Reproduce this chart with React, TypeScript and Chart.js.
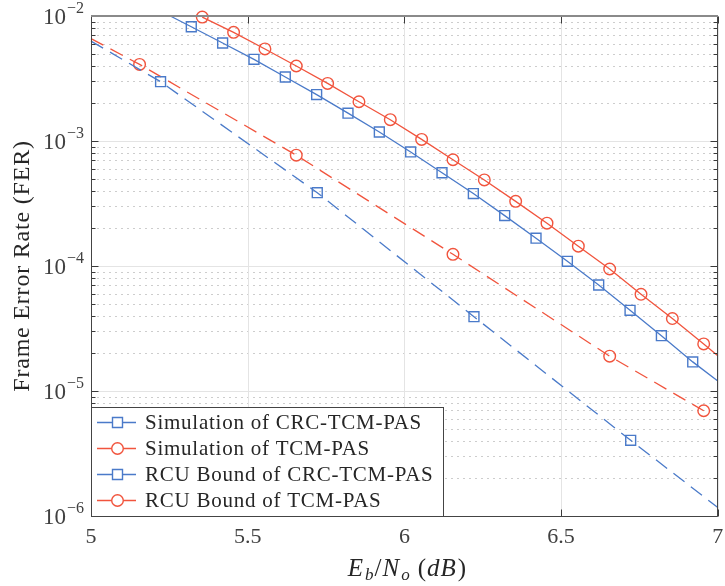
import { useEffect, useRef } from 'react';
import { Chart, registerables } from 'chart.js';

Chart.register(...registerables);

// ---- data ----
const simCrcX = [5.0, 5.222, 5.722, 6.222, 6.722, 7.0];
const simCrcY = [6.3e-3, 2.98e-3, 3.86e-4, 3.93e-5, 4.03e-6, 1.17e-6];

const simTcmX = [5.0, 5.155, 5.655, 6.155, 6.655, 6.955];
const simTcmY = [6.6e-3, 4.1e-3, 7.7e-4, 1.24e-4, 1.9e-5, 6.95e-6];

const rcuCrcX = [5.253, 5.32, 5.42, 5.52, 5.62, 5.72, 5.82, 5.92, 6.02, 6.12, 6.22, 6.32, 6.42, 6.52, 6.62, 6.72, 6.82, 6.92, 7.0];
const rcuCrcY = [1e-2, 8.2e-3, 6.08e-3, 4.5e-3, 3.25e-3, 2.35e-3, 1.67e-3, 1.18e-3, 8.17e-4, 5.57e-4, 3.8e-4, 2.53e-4, 1.67e-4, 1.09e-4, 7.05e-5, 4.42e-5, 2.77e-5, 1.71e-5, 1.2e-5];

const rcuTcmX = [5.355, 5.455, 5.555, 5.655, 5.755, 5.855, 5.955, 6.055, 6.155, 6.255, 6.355, 6.455, 6.555, 6.655, 6.755, 6.855, 6.955, 7.0];
const rcuTcmY = [9.8e-3, 7.4e-3, 5.45e-3, 3.98e-3, 2.89e-3, 2.06e-3, 1.48e-3, 1.03e-3, 7.08e-4, 4.88e-4, 3.29e-4, 2.2e-4, 1.44e-4, 9.46e-5, 5.94e-5, 3.8e-5, 2.38e-5, 1.91e-5];

const seriesLabels = [
  'Simulation of CRC-TCM-PAS',
  'Simulation of TCM-PAS',
  'RCU Bound of CRC-TCM-PAS',
  'RCU Bound of TCM-PAS',
];

const xTicks = [5, 5.5, 6, 6.5, 7];
const xTickLabels = ['5', '5.5', '6', '6.5', '7'];
const yDecadeExps = [-6, -5, -4, -3, -2];
const yTickLabels = ['10', '10', '10', '10', '10'];
const yTickExpLabels = ['\u22126', '\u22125', '\u22124', '\u22123', '\u22122'];

const BLUE = '#4a7ac9';
const RED = '#f1543d';
const FONT = '"Liberation Serif", "DejaVu Serif", serif';

const seriesDefs = [
  { x: simCrcX, y: simCrcY, color: BLUE, dash: [14, 8], style: 'rect', hideFirst: true, hideLast: true },
  { x: simTcmX, y: simTcmY, color: RED, dash: [14, 8], style: 'circle', hideFirst: true, hideLast: false },
  { x: rcuCrcX, y: rcuCrcY, color: BLUE, dash: [], style: 'rect', hideFirst: true, hideLast: true },
  { x: rcuTcmX, y: rcuTcmY, color: RED, dash: [], style: 'circle', hideFirst: false, hideLast: true },
];

const markerRadius = (style: string) => (style === 'rect' ? 7 : 5.8);

const setSpacing = (ctx: any, v: string) => {
  if ('letterSpacing' in ctx) ctx.letterSpacing = v;
};

const decorPlugin = {
  id: 'decor',
  beforeDatasetsDraw(chart: any) {
    const { ctx, chartArea: a, scales } = chart;
    const xs = scales.x;
    const ys = scales.y;
    ctx.save();
    // minor y grid (dotted)
    ctx.strokeStyle = '#cdcdcd';
    ctx.lineWidth = 1;
    ctx.setLineDash([2, 4]);
    for (let e = -6; e < -2; e++) {
      for (let m = 2; m <= 9; m++) {
        const py = Math.round(ys.getPixelForValue(m * Math.pow(10, e))) + 0.5;
        ctx.beginPath();
        ctx.moveTo(a.left, py);
        ctx.lineTo(a.right, py);
        ctx.stroke();
      }
    }
    // major grid (solid)
    ctx.setLineDash([]);
    ctx.strokeStyle = '#e4e4e4';
    for (const e of yDecadeExps) {
      const py = Math.round(ys.getPixelForValue(Math.pow(10, e))) + 0.5;
      ctx.beginPath();
      ctx.moveTo(a.left, py);
      ctx.lineTo(a.right, py);
      ctx.stroke();
    }
    for (const t of xTicks) {
      const px = Math.round(xs.getPixelForValue(t)) + 0.5;
      ctx.beginPath();
      ctx.moveTo(px, a.top);
      ctx.lineTo(px, a.bottom);
      ctx.stroke();
    }
    ctx.restore();
  },
  afterDatasetsDraw(chart: any) {
    const { ctx, chartArea: a, scales } = chart;
    const xs = scales.x;
    const ys = scales.y;
    ctx.save();
    const L = Math.round(a.left) + 0.5;
    const R = Math.round(a.right) - 0.5;
    const T = Math.round(a.top) + 0.5;
    const B = Math.round(a.bottom) + 0.5;

    // tick marks
    ctx.strokeStyle = '#3a3a3a';
    ctx.lineWidth = 1;
    for (let e = -6; e <= -2; e++) {
      for (let m = 1; m <= 9; m++) {
        if (e === -2 && m > 1) break;
        const py = Math.round(ys.getPixelForValue(m * Math.pow(10, e))) + 0.5;
        const len = m === 1 ? 7 : 4;
        ctx.beginPath();
        ctx.moveTo(L, py);
        ctx.lineTo(L + len, py);
        ctx.moveTo(R, py);
        ctx.lineTo(R - len, py);
        ctx.stroke();
      }
    }
    for (const t of xTicks) {
      const px = Math.round(xs.getPixelForValue(t)) + 0.5;
      ctx.beginPath();
      ctx.moveTo(px, B);
      ctx.lineTo(px, B - 7);
      ctx.moveTo(px, T);
      ctx.lineTo(px, T + 7);
      ctx.stroke();
    }

    // box
    ctx.strokeStyle = '#444444';
    ctx.beginPath();
    ctx.moveTo(L, T);
    ctx.lineTo(L, B);
    ctx.lineTo(R, B);
    ctx.lineTo(R, T);
    ctx.stroke();
    ctx.strokeStyle = '#8a8a8a';
    ctx.lineWidth = 2;
    ctx.beginPath();
    ctx.moveTo(L - 0.5, T - 0.5);
    ctx.lineTo(R + 0.5, T - 0.5);
    ctx.stroke();

    // legend
    const lgL = L;
    const lgR = 443.5;
    const lgT = 407.5;
    const lgB = B;
    ctx.fillStyle = '#ffffff';
    ctx.fillRect(lgL, lgT, lgR - lgL, lgB - lgT);
    ctx.strokeStyle = '#444444';
    ctx.lineWidth = 1;
    ctx.strokeRect(lgL, lgT, lgR - lgL, lgB - lgT);
    const rowY = [422, 448, 474, 500];
    ctx.font = `21px ${FONT}`;
    ctx.textBaseline = 'middle';
    ctx.textAlign = 'left';
    seriesDefs.forEach((s, i) => {
      const y = rowY[i] + 0.5;
      ctx.strokeStyle = s.color;
      ctx.lineWidth = 1.3;
      ctx.setLineDash([]);
      ctx.beginPath();
      ctx.moveTo(97, y);
      ctx.lineTo(136, y);
      ctx.stroke();
      ctx.lineWidth = 1.4;
      ctx.beginPath();
      if (s.style === 'rect') {
        ctx.rect(117.5 - 5, y - 5, 10, 10);
      } else {
        ctx.arc(117.5, y, 5.8, 0, Math.PI * 2);
      }
      ctx.fillStyle = '#ffffff';
      ctx.fill();
      ctx.stroke();
      ctx.fillStyle = '#262626';
      setSpacing(ctx, '0.75px');
      ctx.fillText(seriesLabels[i], 145, rowY[i] + 1);
      setSpacing(ctx, '0px');
    });

    // x tick labels
    ctx.fillStyle = '#404040';
    ctx.font = `22px ${FONT}`;
    ctx.textAlign = 'center';
    ctx.textBaseline = 'alphabetic';
    xTicks.forEach((t, i) => {
      ctx.fillText(xTickLabels[i], xs.getPixelForValue(t), 543);
    });

    // y tick labels with superscript exponent
    yDecadeExps.forEach((e, i) => {
      const py = ys.getPixelForValue(Math.pow(10, e));
      ctx.font = `16px ${FONT}`;
      const ew = ctx.measureText(yTickExpLabels[i]).width;
      ctx.textAlign = 'left';
      const expX = 84 - ew;
      ctx.fillText(yTickExpLabels[i], expX, py - 3);
      ctx.font = `23px ${FONT}`;
      ctx.textAlign = 'right';
      ctx.fillText(yTickLabels[i], expX - 1, py + 8);
    });

    // y axis title
    ctx.save();
    ctx.translate(29, 266);
    ctx.rotate(-Math.PI / 2);
    ctx.textAlign = 'center';
    ctx.fillStyle = '#262626';
    ctx.font = `24px ${FONT}`;
    setSpacing(ctx, '0.8px');
    ctx.fillText('Frame Error Rate (FER)', 0, 0);
    setSpacing(ctx, '0px');
    ctx.restore();

    // x axis title: E_b / N_o (dB)
    const pieces = [
      { t: 'E', f: `italic 25px ${FONT}`, dy: 0, sp: 2 },
      { t: 'b', f: `italic 17px ${FONT}`, dy: 4, sp: 1 },
      { t: '/', f: `25px ${FONT}`, dy: 0, sp: 1 },
      { t: 'N', f: `italic 25px ${FONT}`, dy: 0, sp: 2 },
      { t: 'o', f: `italic 17px ${FONT}`, dy: 4, sp: 8 },
      { t: '(', f: `25px ${FONT}`, dy: 0, sp: 1 },
      { t: 'd', f: `italic 25px ${FONT}`, dy: 0, sp: 1 },
      { t: 'B', f: `italic 25px ${FONT}`, dy: 0, sp: 2 },
      { t: ')', f: `25px ${FONT}`, dy: 0, sp: 0 },
    ];
    let total = 0;
    const widths = pieces.map((p) => {
      ctx.font = p.f;
      const w = ctx.measureText(p.t).width + p.sp;
      total += w;
      return w;
    });
    let cx = 407 - total / 2;
    ctx.textAlign = 'left';
    ctx.fillStyle = '#262626';
    pieces.forEach((p, i) => {
      ctx.font = p.f;
      ctx.fillText(p.t, cx, 576 + p.dy);
      cx += widths[i];
    });

    ctx.restore();
  },
};

export default function App() {
  const ref = useRef<HTMLCanvasElement | null>(null);
  useEffect(() => {
    if (!ref.current) return;
    const chart = new Chart(ref.current, {
      type: 'line',
      data: {
        datasets: seriesDefs.map((s, idx) => ({
          label: seriesLabels[idx],
          data: s.x.map((x, i) => ({ x, y: s.y[i] })),
          borderColor: s.color,
          borderWidth: 1.3,
          borderDash: s.dash,
          pointStyle: s.style as any,
          pointRadius: (c: any) => {
            const n = s.x.length;
            if (s.hideFirst && c.dataIndex === 0) return 0;
            if (s.hideLast && c.dataIndex === n - 1) return 0;
            return markerRadius(s.style);
          },
          pointBorderColor: s.color,
          pointBackgroundColor: 'rgba(0,0,0,0)',
          pointBorderWidth: 1.4,
          pointHoverRadius: 0,
          tension: 0,
          clip: false as any,
          fill: false,
        })),
      },
      options: {
        responsive: false,
        animation: false,
        events: [],
        layout: { padding: { left: 91, top: 16, right: 2, bottom: 70 } },
        plugins: { legend: { display: false }, tooltip: { enabled: false } },
        scales: {
          x: { type: 'linear', min: 5, max: 7, display: false },
          y: { type: 'logarithmic', min: 1e-6, max: 1e-2, display: false },
        },
      },
      plugins: [decorPlugin],
    });
    return () => chart.destroy();
  }, []);
  return (
    <div style={{ position: 'fixed', left: 0, top: 0, width: 725, height: 586, background: '#ffffff' }}>
      <canvas ref={ref} width={725} height={586} style={{ display: 'block' }} />
    </div>
  );
}
